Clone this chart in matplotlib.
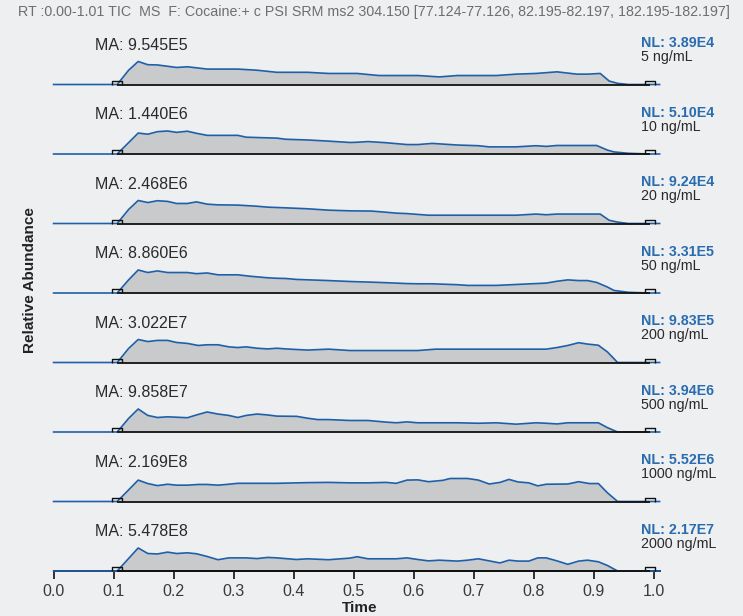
import matplotlib
matplotlib.use("Agg")
import matplotlib.pyplot as plt

plt.rcParams['font.family'] = ['Liberation Sans', 'DejaVu Sans']

# ---------------- data ----------------
header = "RT :0.00-1.01 TIC  MS  F: Cocaine:+ c PSI SRM ms2 304.150 [77.124-77.126, 82.195-82.197, 182.195-182.197]"
concentrations = ["5 ng/mL", "10 ng/mL", "20 ng/mL", "50 ng/mL",
                  "200 ng/mL", "500 ng/mL", "1000 ng/mL", "2000 ng/mL"]
ma_labels = ["MA: 9.545E5", "MA: 1.440E6", "MA: 2.468E6", "MA: 8.860E6",
             "MA: 3.022E7", "MA: 9.858E7", "MA: 2.169E8", "MA: 5.478E8"]
nl_labels = ["NL: 3.89E4", "NL: 5.10E4", "NL: 9.24E4", "NL: 3.31E5",
             "NL: 9.83E5", "NL: 3.94E6", "NL: 5.52E6", "NL: 2.17E7"]
run_start = 0.0
run_end = 1.01
xticks = [0.0, 0.1, 0.2, 0.3, 0.4, 0.5, 0.6, 0.7, 0.8, 0.9, 1.0]
xtick_labels = ["0.0", "0.1", "0.2", "0.3", "0.4", "0.5", "0.6", "0.7", "0.8", "0.9", "1.0"]

t1 = [0.106, 0.125, 0.141, 0.157, 0.173, 0.205, 0.223, 0.256, 0.307, 0.339, 0.372, 0.423, 0.458, 0.506, 0.542,
      0.607, 0.643, 0.673, 0.738, 0.771, 0.804, 0.839, 0.872, 0.890, 0.911, 0.926, 0.940, 0.958, 0.994]
i1 = [0, 62, 100, 86, 85, 74, 77, 67, 67, 62, 53, 53, 48, 48, 39,
      39, 33, 39, 39, 45, 48, 55, 45, 45, 48, 15, 5, 0, 0]

t2 = [0.106, 0.141, 0.157, 0.173, 0.190, 0.205, 0.223, 0.238, 0.256, 0.307, 0.321, 0.372, 0.387, 0.423, 0.458,
      0.494, 0.506, 0.524, 0.554, 0.589, 0.607, 0.631, 0.673, 0.708, 0.726, 0.771, 0.804, 0.821, 0.839, 0.872,
      0.905, 0.923, 0.934, 0.958, 0.994]
i2 = [0, 91, 86, 97, 100, 94, 99, 90, 81, 81, 73, 69, 64, 61, 56,
      50, 51, 54, 49, 41, 41, 46, 39, 36, 31, 31, 36, 33, 37, 37,
      37, 17, 9, 3, 0]

t3 = [0.106, 0.125, 0.141, 0.157, 0.173, 0.190, 0.205, 0.223, 0.238, 0.256, 0.274, 0.307, 0.339, 0.357, 0.387,
      0.423, 0.458, 0.494, 0.530, 0.554, 0.571, 0.589, 0.625, 0.673, 0.738, 0.771, 0.804, 0.821, 0.839, 0.869,
      0.911, 0.926, 0.940, 0.958, 0.994]
i3 = [0, 61, 100, 91, 99, 96, 87, 87, 94, 84, 81, 80, 75, 71, 68,
      64, 58, 55, 54, 49, 45, 43, 36, 36, 36, 36, 41, 38, 41, 41,
      41, 14, 6, 0, 0]

t4 = [0.106, 0.125, 0.141, 0.157, 0.173, 0.190, 0.223, 0.238, 0.256, 0.274, 0.307, 0.327, 0.357, 0.372, 0.387,
      0.405, 0.458, 0.494, 0.542, 0.589, 0.607, 0.631, 0.673, 0.690, 0.738, 0.771, 0.804, 0.821, 0.839, 0.857,
      0.875, 0.890, 0.905, 0.923, 0.934, 0.958, 0.994]
i4 = [0, 57, 100, 89, 96, 89, 89, 84, 87, 79, 79, 73, 66, 64, 63,
      59, 54, 50, 46, 41, 40, 40, 36, 33, 33, 37, 41, 43, 51, 57,
      54, 54, 46, 26, 11, 3, 0]

t5 = [0.106, 0.125, 0.141, 0.157, 0.173, 0.190, 0.205, 0.223, 0.241, 0.256, 0.274, 0.292, 0.307, 0.321, 0.339,
      0.357, 0.372, 0.387, 0.423, 0.458, 0.494, 0.607, 0.637, 0.821, 0.839, 0.857, 0.875, 0.890, 0.908, 0.923,
      0.940, 0.994]
i5 = [0, 61, 100, 91, 96, 96, 87, 83, 74, 77, 77, 68, 65, 68, 62,
      59, 62, 59, 54, 58, 52, 52, 58, 58, 65, 74, 86, 80, 75, 46,
      0, 0]

t6 = [0.106, 0.125, 0.141, 0.157, 0.173, 0.190, 0.223, 0.238, 0.256, 0.274, 0.292, 0.307, 0.321, 0.339, 0.357,
      0.372, 0.405, 0.423, 0.440, 0.458, 0.494, 0.524, 0.554, 0.571, 0.589, 0.607, 0.673, 0.708, 0.738, 0.771,
      0.804, 0.821, 0.839, 0.857, 0.908, 0.923, 0.940, 0.994]
i6 = [0, 59, 100, 72, 63, 66, 62, 74, 87, 78, 72, 63, 72, 78, 74,
      69, 68, 60, 54, 54, 50, 50, 43, 40, 44, 40, 40, 38, 40, 34,
      40, 38, 35, 40, 40, 19, 0, 0]

t7 = [0.106, 0.141, 0.157, 0.173, 0.190, 0.205, 0.223, 0.241, 0.256, 0.274, 0.292, 0.307, 0.372, 0.423, 0.458,
      0.494, 0.524, 0.554, 0.571, 0.589, 0.607, 0.625, 0.649, 0.661, 0.690, 0.708, 0.726, 0.744, 0.759, 0.774,
      0.792, 0.807, 0.821, 0.857, 0.875, 0.893, 0.908, 0.923, 0.940, 0.994]
i7 = [0, 93, 78, 69, 75, 71, 71, 74, 74, 71, 75, 79, 79, 82, 83,
      81, 81, 83, 79, 93, 94, 86, 92, 100, 100, 93, 76, 83, 96, 85,
      81, 68, 75, 76, 86, 78, 78, 38, 0, 0]

t8 = [0.106, 0.141, 0.157, 0.173, 0.190, 0.205, 0.223, 0.238, 0.256, 0.274, 0.292, 0.321, 0.339, 0.357, 0.372,
      0.405, 0.423, 0.458, 0.494, 0.506, 0.524, 0.571, 0.589, 0.607, 0.625, 0.643, 0.673, 0.690, 0.708, 0.726,
      0.744, 0.759, 0.774, 0.792, 0.807, 0.821, 0.839, 0.857, 0.875, 0.890, 0.908, 0.923, 0.940, 0.994]
i8 = [0, 100, 76, 74, 82, 76, 79, 75, 63, 49, 57, 57, 54, 59, 57,
      50, 53, 49, 56, 62, 53, 53, 57, 50, 44, 47, 43, 47, 53, 44,
      35, 47, 43, 43, 57, 57, 44, 29, 43, 47, 40, 24, 0, 0]

times = [t1, t2, t3, t4, t5, t6, t7, t8]
intens = [i1, i2, i3, i4, i5, i6, i7, i8]

# ---------------- style ----------------
BG = "#eeeff0"
BLUE = "#1f5fa8"
NLBLUE = "#2a6cb0"
FILL = "#c9cacc"
W, H = 743, 616

fig = plt.figure(figsize=(W / 100, H / 100), dpi=100, facecolor=BG)

left_px = 53.6
px_per_unit = 600.0
xmax = 1.02
panel_h = 69.5
first_base = 84.5
ytop = 302.0

marker_path = [(-1, 0), (-1, 0.75), (1, 0.75), (1, 0)]

n = len(times)
for k in range(n):
    base_px = first_base + k * panel_h
    ax = fig.add_axes([left_px / W, (H - base_px) / H,
                       xmax * px_per_unit / W, panel_h / H])
    ax.set_facecolor("none")
    ax.set_xlim(0, xmax)
    ax.set_ylim(0, ytop)
    for s in ax.spines.values():
        s.set_visible(False)
    ax.set_yticks([])

    tx = [run_start] + times[k] + [run_end]
    iy = [0] + intens[k] + [0]
    ax.fill_between(times[k], 0, intens[k], color=FILL, lw=0, zorder=1)
    ax.plot(tx, iy, color=BLUE, lw=1.2, zorder=3, clip_on=False)
    ax.plot([times[k][0], times[k][-1]], [0, 0], color="#111111", lw=1.3,
            zorder=4, clip_on=False, solid_capstyle="butt")
    ax.plot([times[k][0], times[k][-1]], [0, 0], ls="none",
            marker=marker_path, ms=7, mec="#111111", mfc="none", mew=1.0,
            zorder=5, clip_on=False)

    ax.text(0.069, 0.565, ma_labels[k], transform=ax.get_xaxis_transform(),
            ha="left", va="center", fontsize=11.5, color="#2a2a2a")
    ax.text(0.979, 0.595, nl_labels[k], transform=ax.get_xaxis_transform(),
            ha="left", va="center", fontsize=10.3, color=NLBLUE, fontweight="bold")
    ax.text(0.979, 0.39, concentrations[k], transform=ax.get_xaxis_transform(),
            ha="left", va="center", fontsize=10.3, color="#2a2a2a")

    if k == n - 1:
        ax.spines["bottom"].set_visible(True)
        ax.spines["bottom"].set_bounds(run_start, run_end)
        ax.spines["bottom"].set_linewidth(1.3)
        ax.spines["bottom"].set_color("#111111")
        ax.spines["bottom"].set_zorder(2.5)
        ax.set_xticks(xticks)
        ax.set_xticklabels(xtick_labels)
        ax.tick_params(axis="x", length=6, width=1.2, color="#111111",
                       labelsize=11.5, labelcolor="#3a3a3a", pad=3)
        ax.set_xlabel("Time", fontsize=11, fontweight="bold", color="#222222", labelpad=2)
    else:
        ax.set_xticks([])

fig.text(18 / W, 1 - 12 / H, header, ha="left", va="center",
         fontsize=10.3, color="#6e6e6e")
fig.text(30 / W, 1 - 280 / H, "Relative Abundance", rotation=90,
         ha="center", va="center", fontsize=11, fontweight="bold", color="#222222")

fig.savefig("out.png", dpi=100, facecolor=BG)
